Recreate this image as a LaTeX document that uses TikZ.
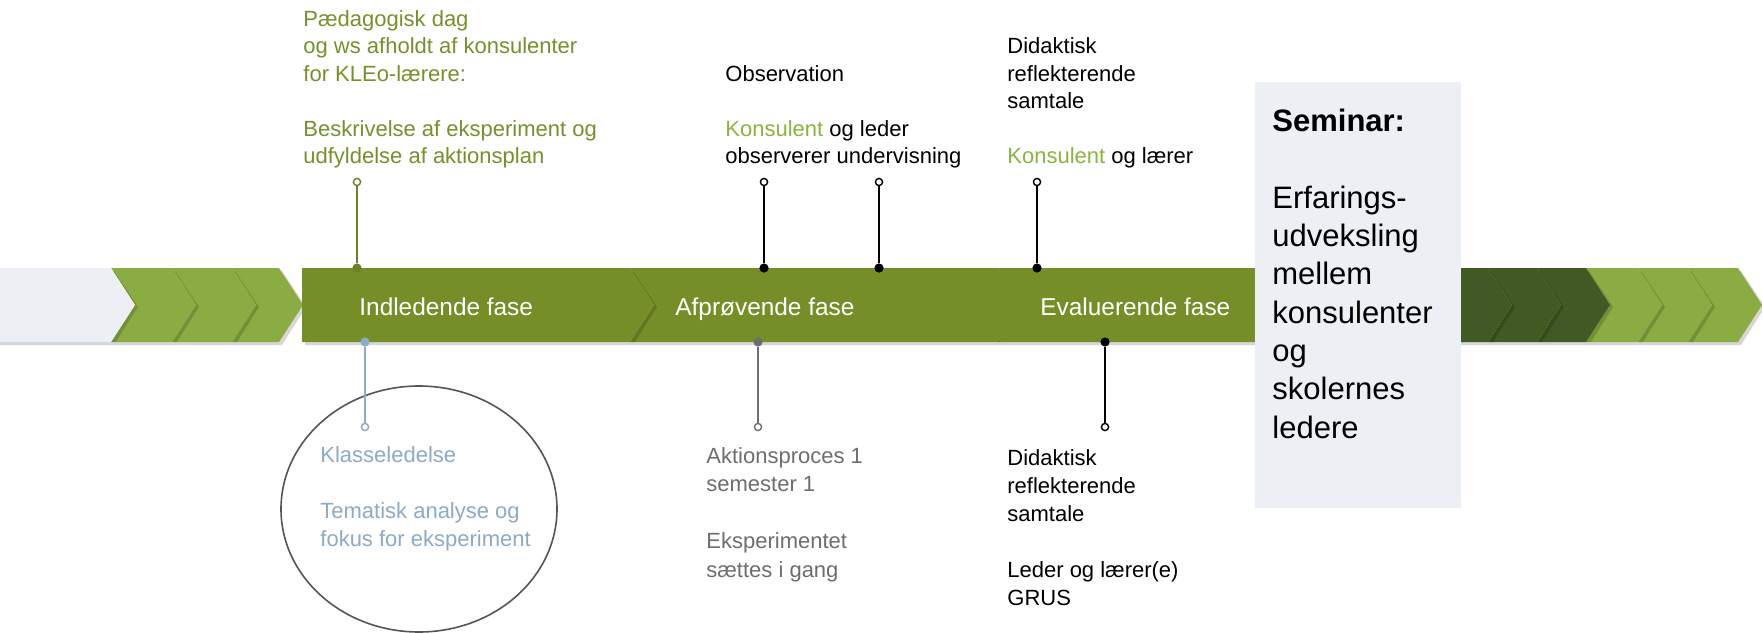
\documentclass[tikz,border=0pt]{standalone}
\usepackage{fontspec}
\setmainfont{Liberation Sans}
\usetikzlibrary{shapes.geometric}
\definecolor{bandgreen}{HTML}{768E27}
\definecolor{lightgreen}{HTML}{8BAC42}
\definecolor{darkgreen}{HTML}{415A23}
\definecolor{paleblue}{HTML}{ECEFF3}
\definecolor{olivetext}{HTML}{76912B}
\definecolor{konsgreen}{HTML}{8AB43E}
\definecolor{bluetext}{HTML}{8CABC6}
\definecolor{graytext}{HTML}{6E6E6E}
\definecolor{ringgray}{HTML}{555555}
\newcommand{\chevronshape}[4]{% #1 left x, #2 top-right x, #3 fill colour, #4 notch depth (0 = flat back)
  \fill[black, opacity=0.16] ({#1+3},271) -- ({#2+3},271) -- ({#2+27},307) -- ({#2+3},345) -- ({#1+3},345) -- ({#1+#4+3},307) -- cycle;
  \fill[#3] (#1,268) -- (#2,268) -- ({#2+24},305) -- (#2,342) -- (#1,342) -- ({#1+#4},305) -- cycle;
}
\begin{document}
\begin{tikzpicture}[x=0.5pt,y=-0.5pt,
  txt/.style={anchor=base west, inner sep=0pt, align=left},
  toptxt/.style={txt, font=\fontsize{11}{13.75}\selectfont},
  bottxt/.style={txt, font=\fontsize{11}{14}\selectfont},
  phase/.style={anchor=base west, inner sep=0pt, text=white, font=\fontsize{12.2}{14}\selectfont},
  opencirc/.style={circle, draw, fill=white, inner sep=0pt, minimum size=3.6pt, line width=0.7pt},
  stemdot/.style={circle, fill, inner sep=0pt, minimum size=4.6pt},
  stem/.style={line width=1pt}]
\useasboundingbox (0,0) rectangle (1762,632);

% left chevrons (drawn right to left so shadows fall on the next one)
\chevronshape{232}{279}{lightgreen}{24}
\chevronshape{172}{232}{lightgreen}{24}
\chevronshape{111}{172}{lightgreen}{24}
\chevronshape{-30}{111}{paleblue}{0}

% right chevrons
\chevronshape{1688}{1738}{lightgreen}{24}
\chevronshape{1638}{1688}{lightgreen}{24}
\chevronshape{1586}{1638}{lightgreen}{24}
\chevronshape{1537}{1586}{darkgreen}{24}
\chevronshape{1488}{1537}{darkgreen}{24}
\chevronshape{1440}{1488}{darkgreen}{0}

% main band
\chevronshape{998}{1255}{bandgreen}{24}
\chevronshape{630}{998}{bandgreen}{24}
\chevronshape{302}{630}{bandgreen}{0}
\fill[bandgreen] (1000,268) rectangle (1262,342);

% seminar box
\node[fill=paleblue, inner sep=0pt, minimum width=103pt, minimum height=213pt, anchor=north west] (seminar) at (1255,82) {};
\node[txt, font=\fontsize{15.5}{19.15}\selectfont] (semtxt) at (1272,438)
  {\textbf{Seminar:}\\ \\ Erfarings-\\udveksling\\mellem\\konsulenter\\og\\skolernes\\ledere};

% phase labels
\node[phase] (p1) at (359,315) {Indledende fase};
\node[phase] (p2) at (675,315) {Afprøvende fase};
\node[phase] (p3) at (1040,315) {Evaluerende fase};

% top texts (anchored at the baseline of their last line)
\node[toptxt, text=olivetext] (t1) at (303,163.5)
  {Pædagogisk dag\\og ws afholdt af konsulenter\\for KLEo-lærere:\\ \\Beskrivelse af eksperiment og\\udfyldelse af aktionsplan};
\node[toptxt] (t2) at (725,163.5)
  {Observation\\ \\{\color{konsgreen}Konsulent} og leder\\observerer undervisning};
\node[toptxt] (t3) at (1007,163.5)
  {Didaktisk\\reflekterende\\samtale\\ \\{\color{konsgreen}Konsulent} og lærer};

% bottom texts
\node[txt, font=\fontsize{11}{13.85}\selectfont, text=bluetext] (b1) at (320,546)
  {Klasseledelse\\ \\Tematisk analyse og\\fokus for eksperiment};
\node[txt, font=\fontsize{11}{14.25}\selectfont, text=graytext] (b2) at (706,577)
  {Aktionsproces 1\\semester 1\\ \\Eksperimentet\\sættes i gang};
\node[bottxt] (b3) at (1007,605)
  {Didaktisk\\reflekterende\\samtale\\ \\Leder og lærer(e)\\GRUS};

% ellipse round the first bottom text
\node[draw=ringgray, line width=0.8pt, ellipse, inner sep=0pt, minimum width=138pt, minimum height=123pt] (ring) at (419,509) {};

% top stems
\node[opencirc, draw=olivetext!90!black] (c1) at (357,182) {};
\node[stemdot, fill=olivetext!90!black] (d1) at (357,268) {};
\draw[stem, olivetext!90!black] (c1) -- (d1);
\node[opencirc, draw=black] (c2) at (764,182) {};
\node[stemdot, fill=black] (d2) at (764,268) {};
\draw[stem, black] (c2) -- (d2);
\node[opencirc, draw=black] (c3) at (879,182) {};
\node[stemdot, fill=black] (d3) at (879,268) {};
\draw[stem, black] (c3) -- (d3);
\node[opencirc, draw=black] (c4) at (1037,182) {};
\node[stemdot, fill=black] (d4) at (1037,268) {};
\draw[stem, black] (c4) -- (d4);

% bottom stems
\node[stemdot, fill=bluetext] (d5) at (365,342) {};
\node[opencirc, draw=bluetext] (c5) at (365,427) {};
\draw[stem, bluetext] (d5) -- (c5);
\node[stemdot, fill=graytext] (d6) at (758,342) {};
\node[opencirc, draw=graytext] (c6) at (758,427) {};
\draw[stem, graytext] (d6) -- (c6);
\node[stemdot, fill=black] (d7) at (1105,342) {};
\node[opencirc, draw=black] (c7) at (1105,427) {};
\draw[stem, black] (d7) -- (c7);
\end{tikzpicture}
\end{document}
